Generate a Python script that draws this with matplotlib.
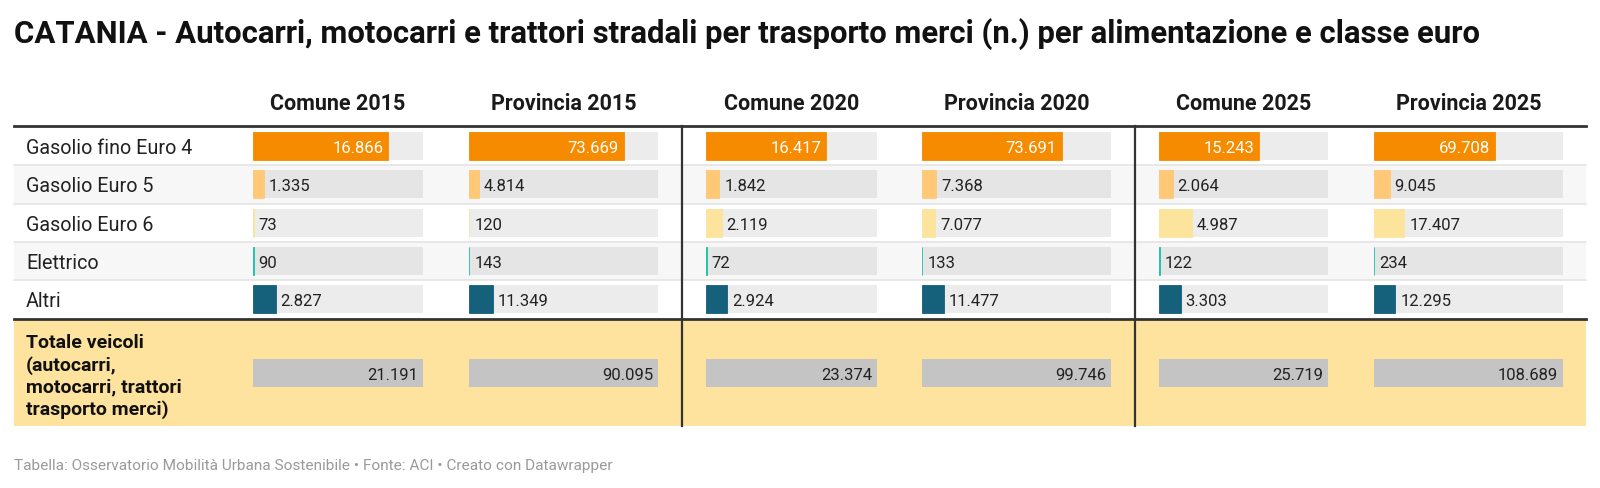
import matplotlib
matplotlib.use("Agg")
import matplotlib.pyplot as plt
from matplotlib.patches import Rectangle

plt.rcParams['font.family'] = ['Roboto', 'DejaVu Sans']

# ---------------- data ----------------
title = "CATANIA - Autocarri, motocarri e trattori stradali per trasporto merci (n.) per alimentazione e classe euro"
columns = ["Comune 2015", "Provincia 2015", "Comune 2020", "Provincia 2020", "Comune 2025", "Provincia 2025"]
categories = ["Gasolio fino Euro 4", "Gasolio Euro 5", "Gasolio Euro 6", "Elettrico", "Altri"]
gasolio_euro4 = [16866, 73669, 16417, 73691, 15243, 69708]
gasolio_euro5 = [1335, 4814, 1842, 7368, 2064, 9045]
gasolio_euro6 = [73, 120, 2119, 7077, 4987, 17407]
elettrico = [90, 143, 72, 133, 122, 234]
altri = [2827, 11349, 2924, 11477, 3303, 12295]
totale = [21191, 90095, 23374, 99746, 25719, 108689]
total_label = "Totale veicoli\n(autocarri,\nmotocarri, trattori\ntrasporto merci)"
footer = "Tabella: Osservatorio Mobilità Urbana Sostenibile • Fonte: ACI • Creato con Datawrapper"

series = [gasolio_euro4, gasolio_euro5, gasolio_euro6, elettrico, altri]
colors = ["#f78b00", "#fec877", "#fde49c", "#18c2a5", "#15607a"]

# ---------------- layout (pixels) ----------------
W, H = 1600, 489
fig = plt.figure(figsize=(W / 100, H / 100), dpi=100)
bg = fig.add_axes([0, 0, 1, 1])
bg.set_xlim(0, W)
bg.set_ylim(H, 0)
bg.axis('off')

tbl_left, tbl_right = 14, 1586
head_line_y = 127
row_top = 128
row_h = 38.3
bar_h = 28
tot_top, tot_bot = 321, 427
col_left = [253, 469, 706, 922, 1159, 1374]
col_width = [170, 189, 171, 189, 169, 189]
vlines_x = [682, 1135]

label_fs = 14.2
value_fs = 12
label_cap = label_fs / 72 * 100 * 0.711
value_cap = value_fs / 72 * 100 * 0.711

def fmt(v):
    return f"{v:,}".replace(",", ".")

# title
bg.text(14, 43.3, title, fontsize=22.4, fontweight='bold', color='#111111',
        va='baseline', ha='left')

# headers
for j, name in enumerate(columns):
    bg.text(col_left[j] + col_width[j] / 2, 110, name, fontsize=15.5,
            fontweight='bold', color='#1a1a1a', ha='center', va='baseline')

# row backgrounds and labels
for i, cat in enumerate(categories):
    y0 = row_top + i * row_h
    fc = '#f7f7f7' if i % 2 == 1 else '#ffffff'
    bg.add_patch(Rectangle((tbl_left, y0), tbl_right - tbl_left, row_h,
                           facecolor=fc, edgecolor='none', zorder=0))
    if i > 0:
        bg.plot([tbl_left, tbl_right], [y0, y0], color='#e4e4e4', lw=1.2, zorder=1)
    bg.text(26, y0 + row_h / 2 + label_cap / 2, cat, fontsize=label_fs, color='#222222',
            ha='left', va='baseline')

# total row
bg.add_patch(Rectangle((tbl_left, tot_top), tbl_right - tbl_left, tot_bot - tot_top,
                       facecolor='#fee39e', edgecolor='none', zorder=0))
bg.text(26, (tot_top + tot_bot) / 2 + 2.5, total_label, fontsize=14, fontweight='bold',
        color='#111111', ha='left', va='center', linespacing=1.27)

# lines
bg.plot([tbl_left, tbl_right], [head_line_y, head_line_y], color='#333333', lw=2, zorder=5)
bg.plot([tbl_left, tbl_right], [tot_top - 1, tot_top - 1], color='#333333', lw=2, zorder=5)
for x in vlines_x:
    bg.plot([x, x], [head_line_y, tot_bot], color='#333333', lw=1.6, zorder=5)

# footer
bg.text(14, 470, footer, fontsize=11.1, color='#9a9a9a', ha='left', va='baseline')

# ---------------- bar columns ----------------
for j in range(len(columns)):
    ax = fig.add_axes([col_left[j] / W, 0, col_width[j] / W, 1])
    ax.set_xlim(0, totale[j])
    ax.set_ylim(H, 0)
    ax.axis('off')
    ax.patch.set_alpha(0)
    ycent = [row_top + i * row_h + row_h / 2 for i in range(len(categories))]
    bgcols = ['#e5e5e5' if i % 2 == 1 else '#ececec' for i in range(len(categories))]
    ax.barh(ycent, [totale[j]] * len(categories), height=bar_h, left=0,
            color=bgcols, zorder=1)
    for i, s in enumerate(series):
        v = s[j]
        ax.barh(ycent[i], v, height=bar_h, color=colors[i],
                edgecolor=colors[i], linewidth=0.6, zorder=2)
        yb = ycent[i] + value_cap / 2
        if v / totale[j] > 0.5:
            ax.annotate(fmt(v), xy=(v, yb), xytext=(-5, 0),
                        textcoords='offset pixels', ha='right', va='baseline',
                        fontsize=value_fs, color='white', zorder=3)
        else:
            ax.annotate(fmt(v), xy=(v, yb), xytext=(5, 0),
                        textcoords='offset pixels', ha='left', va='baseline',
                        fontsize=value_fs, color='#222222', zorder=3)
    ytot = (tot_top + tot_bot) / 2
    ax.barh(ytot, totale[j], height=bar_h, color='#c4c4c4', zorder=2)
    ax.annotate(fmt(totale[j]), xy=(totale[j], ytot + value_cap / 2), xytext=(-5, 0),
                textcoords='offset pixels', ha='right', va='baseline',
                fontsize=value_fs, color='#222222', zorder=3)

fig.savefig("out.png", dpi=100)
